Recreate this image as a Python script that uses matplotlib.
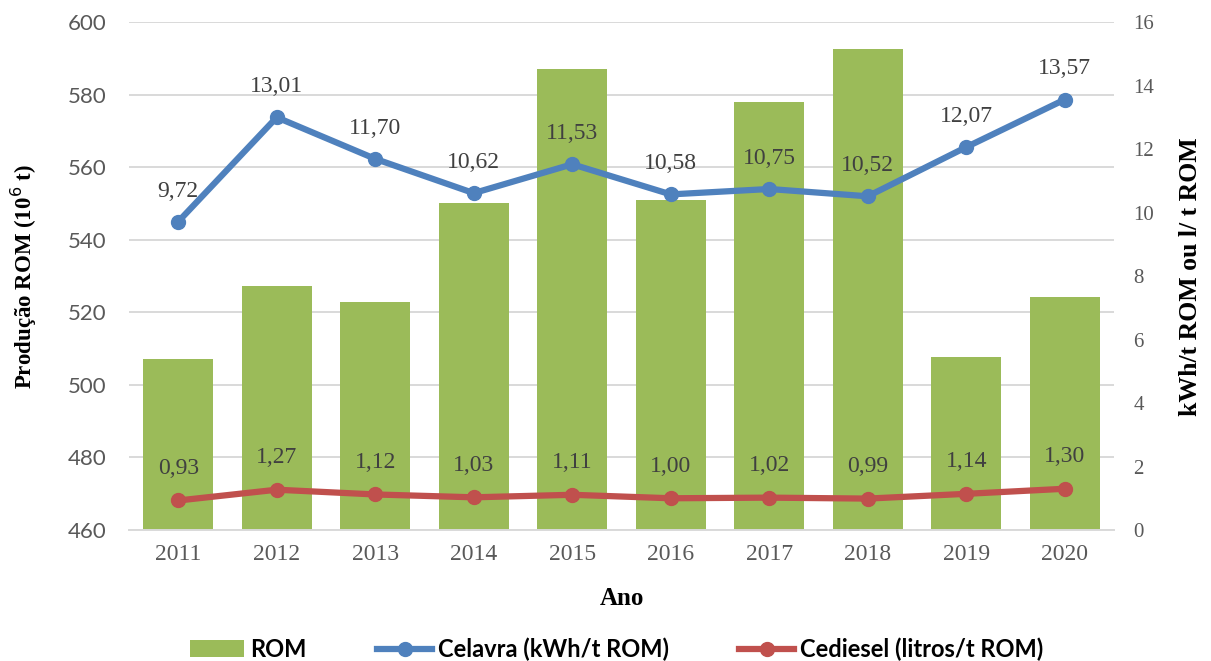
import numpy as np
import matplotlib.pyplot as plt

# data
anos = ["2011", "2012", "2013", "2014", "2015", "2016", "2017", "2018", "2019", "2020"]
rom = [507.2, 527.3, 522.9, 550.2, 587.2, 551.0, 578.1, 592.7, 507.7, 524.4]
celavra = [9.72, 13.01, 11.70, 10.62, 11.53, 10.58, 10.75, 10.52, 12.07, 13.57]
cediesel = [0.93, 1.27, 1.12, 1.03, 1.11, 1.00, 1.02, 0.99, 1.14, 1.30]

verde = "#9bbb59"
azul = "#4f81bd"
vermelho = "#c0504d"
cinza = "#595959"
serif = "Liberation Serif"
sans = "Lato"

fig = plt.figure(figsize=(12.11, 6.61), dpi=100)
ax = fig.add_axes([0.1065, 0.1982, 0.8134, 0.7678])
ax2 = ax.twinx()

x = np.arange(len(anos))
ax.bar(x, rom, width=0.71, color=verde, zorder=2, label="ROM")
ax.set_ylim(460, 600)
ax.set_yticks(range(460, 601, 20))
ax.set_xlim(-0.5, len(anos) - 0.5)
ax.set_xticks(x)
ax.set_xticklabels(anos, family=serif, fontsize=17, color=cinza)
ax.tick_params(axis="y", labelsize=16, labelcolor=cinza, length=0, pad=16)
for lab in ax.get_yticklabels():
    lab.set_family(sans)
ax.tick_params(axis="x", length=0, pad=10)
ax.grid(axis="y", color="#d9d9d9", linewidth=1.4, zorder=0)
ax.set_axisbelow(True)
for s in ax.spines.values():
    s.set_visible(False)
ax.spines["bottom"].set_visible(True)
ax.spines["bottom"].set_color("#d9d9d9")
ax.spines["bottom"].set_linewidth(1.4)

ax.set_ylabel("Produção ROM (10$^{6}$ t)", family=serif, fontsize=16.5, fontweight="bold",
              va="center")
ax.yaxis.set_label_coords(-0.1066, 0.5)
ax.set_xlabel("Ano", family=serif, fontsize=18, fontweight="bold")
ax.xaxis.set_label_coords(0.5, -0.112)

ax2.plot(x, celavra, color=azul, linewidth=4.5, marker="o", markersize=10, zorder=3,
         label="Celavra (kWh/t ROM)")
ax2.plot(x, cediesel, color=vermelho, linewidth=4.5, marker="o", markersize=10, zorder=3,
         label="Cediesel (litros/t ROM)")
ax2.set_ylim(0, 16)
ax2.set_yticks(range(0, 17, 2))
ax2.tick_params(axis="y", labelsize=15, labelcolor=cinza, length=0, pad=14)
for lab in ax2.get_yticklabels():
    lab.set_family(serif)
for s in ax2.spines.values():
    s.set_visible(False)
ax2.set_ylabel("kWh/t ROM ou l/ t ROM", family=serif, fontsize=18.5, fontweight="bold",
               va="center")
ax2.yaxis.set_label_coords(1.078, 0.5)

for xi, v in zip(x, celavra):
    ax2.annotate(f"{v:.2f}".replace(".", ","), (xi, v), xytext=(0, 22), textcoords="offset points",
                 ha="center", va="center", family=serif, fontsize=17, color="#404040")
for xi, v in zip(x, cediesel):
    ax2.annotate(f"{v:.2f}".replace(".", ","), (xi, v), xytext=(0, 23), textcoords="offset points",
                 ha="center", va="center", family=serif, fontsize=17, color="#404040")

h1, l1 = ax.get_legend_handles_labels()
h2, l2 = ax2.get_legend_handles_labels()
fig.legend(h1 + h2, l1 + l2, loc="center", bbox_to_anchor=(0.509, 0.018), ncol=3, frameon=False,
           prop={"family": sans, "weight": "bold", "size": 17}, handlelength=2.3, columnspacing=3.0,
           handletextpad=0.25)

fig.savefig("out.png", dpi=100)
